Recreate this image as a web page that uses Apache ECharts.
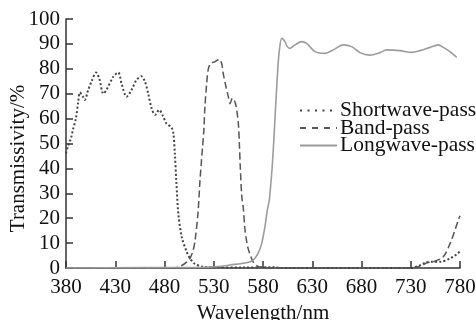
<!DOCTYPE html>
<html><head><meta charset="utf-8">
<script src="https://cdn.jsdelivr.net/npm/echarts@6/dist/echarts.min.js"></script>
<style>html,body{margin:0;padding:0;background:#fff}#c{width:476px;height:320px}</style>
</head><body><div id="c"></div>
<script>
const xTicks = [380, 430, 480, 530, 580, 630, 680, 730, 780];
const yTicks = [0, 10, 20, 30, 40, 50, 60, 70, 80, 90, 100];
const seriesNames = ['Shortwave-pass', 'Band-pass', 'Longwave-pass'];

const shortwave = [[380,46],[382,49],[385,52],[387,55.5],[390,60],[392.5,67],[394,70.5],[397,69],[399,67.5],[402.5,71.5],[406,75],[410.5,78.5],[413.8,76],[418,70],[421,71.5],[428,76.8],[433,78.5],[436.5,74],[441.5,68.8],[446.5,71.5],[451.5,75.5],[456.5,77],[460,75],[463.5,70],[467,64],[470.5,61.5],[474.5,63.5],[478.5,61],[482,58],[487,56.5],[489,54],[490.5,46],[492,35],[494,22],[497.5,12.5],[502.5,6.5],[506,3.8],[511,1.6],[519,0.5],[530,0.3],[560,0.2],[590,0.3],[600,0],[730,0],[738,0.8],[745,2.2],[752,2.5],[760,2.5],[770,3.9],[778,5.9],[780,7]];

const bandpass = [[380,0],[490,0],[497.5,1],[503,2.5],[506,4],[509,7],[511,11],[514,22],[516,35],[518.5,48],[520,55.5],[521,64.5],[522.8,74],[524.5,80],[527,82.2],[531,82.8],[535.5,83.8],[538,82.2],[539.7,78],[542.4,72.8],[544.8,68.8],[546.5,66],[549,68.2],[551.5,66.8],[553.3,63.5],[555,58],[556,50],[557,40],[558.4,29],[560,24],[561.7,15.5],[563.5,10.5],[565.5,7],[570,2.5],[575,0.6],[585,0],[730,0],[740,0.8],[747,2.2],[753,2.5],[763,4.5],[770,9.9],[775,15.3],[778.3,19.3],[780,21]];

const longwave = [[380,0],[520,0.3],[535,0.6],[546.5,1.2],[563,2.1],[570,3.2],[575,5.9],[578.7,9.9],[582,16.6],[584.4,23.3],[586.4,27.3],[589.8,43.4],[593.2,67.5],[595,80],[596.5,87],[599,92.2],[602.3,90.9],[604.5,89],[607.4,88.2],[612.5,89.6],[619.3,90.9],[624.3,90.2],[632.8,86.9],[643,86.2],[651.4,87.6],[661.5,89.6],[670,88.9],[678.5,86.5],[688.6,85.5],[698.8,86.5],[705.5,87.6],[719,87.3],[731,86.6],[739.4,87.3],[749.5,88.6],[758,89.6],[763,88.6],[769.8,86.9],[776.6,84.6]];

const font = '"Liberation Serif", "Times New Roman", serif';
const chart = echarts.init(document.getElementById('c'), null, {renderer: 'canvas'});
chart.setOption({
  animation: false,
  backgroundColor: '#fff',
  grid: {left: 66, right: 16, top: 19, bottom: 52, containLabel: false, outerBoundsMode: 'none'},
  legend: {
    orient: 'vertical', left: 299, top: 99.5, padding: 0,
    itemWidth: 37, itemHeight: 14, itemGap: -4.5,
    itemStyle: {opacity: 0},
    textStyle: {fontFamily: font, fontSize: 21.5, color: '#111', padding: [0,0,0,-2]},
    data: [
      {name: seriesNames[0], lineStyle: {type: [2, 5.5]}},
      {name: seriesNames[1], lineStyle: {type: [6, 6]}},
      {name: seriesNames[2]}
    ]
  },
  xAxis: {
    type: 'value', min: xTicks[0], max: xTicks[xTicks.length-1], interval: 50,
    name: 'Wavelength/nm', nameLocation: 'middle', nameGap: 28,
    nameTextStyle: {fontFamily: font, fontSize: 21, color: '#111'},
    axisLine: {lineStyle: {color: '#333', width: 1.5}},
    axisTick: {inside: true, length: 7, lineStyle: {color: '#333', width: 1.5}},
    axisLabel: {fontFamily: font, fontSize: 21, color: '#111', margin: 9},
    splitLine: {show: false}
  },
  yAxis: {
    type: 'value', min: yTicks[0], max: yTicks[yTicks.length-1], interval: 10,
    name: 'Transmissivity/%', nameLocation: 'middle', nameGap: 37.5, nameMoveOverlap: false,
    nameTextStyle: {fontFamily: font, fontSize: 21, color: '#111', padding: [0, 30, 0, 0]},
    axisLine: {show: true, lineStyle: {color: '#333', width: 1.5}},
    axisTick: {show: true, inside: true, length: 7, lineStyle: {color: '#333', width: 1.5}},
    axisLabel: {fontFamily: font, fontSize: 21, color: '#111', margin: 6},
    splitLine: {show: false}
  },
  series: [
    {name: seriesNames[0], type: 'line', data: shortwave, symbol: 'none', smooth: 0.3,
     lineStyle: {color: '#444', width: 2, type: [2, 2.2]}, itemStyle: {color: '#444'}},
    {name: seriesNames[1], type: 'line', data: bandpass, symbol: 'none', smooth: 0.3,
     lineStyle: {color: '#555', width: 1.5, type: [7, 3.5]}, itemStyle: {color: '#555'}},
    {name: seriesNames[2], type: 'line', data: longwave, symbol: 'none', smooth: 0.3,
     lineStyle: {color: '#9c9c9c', width: 1.6, type: 'solid'}, itemStyle: {color: '#9c9c9c'}}
  ]
});
</script></body></html>
